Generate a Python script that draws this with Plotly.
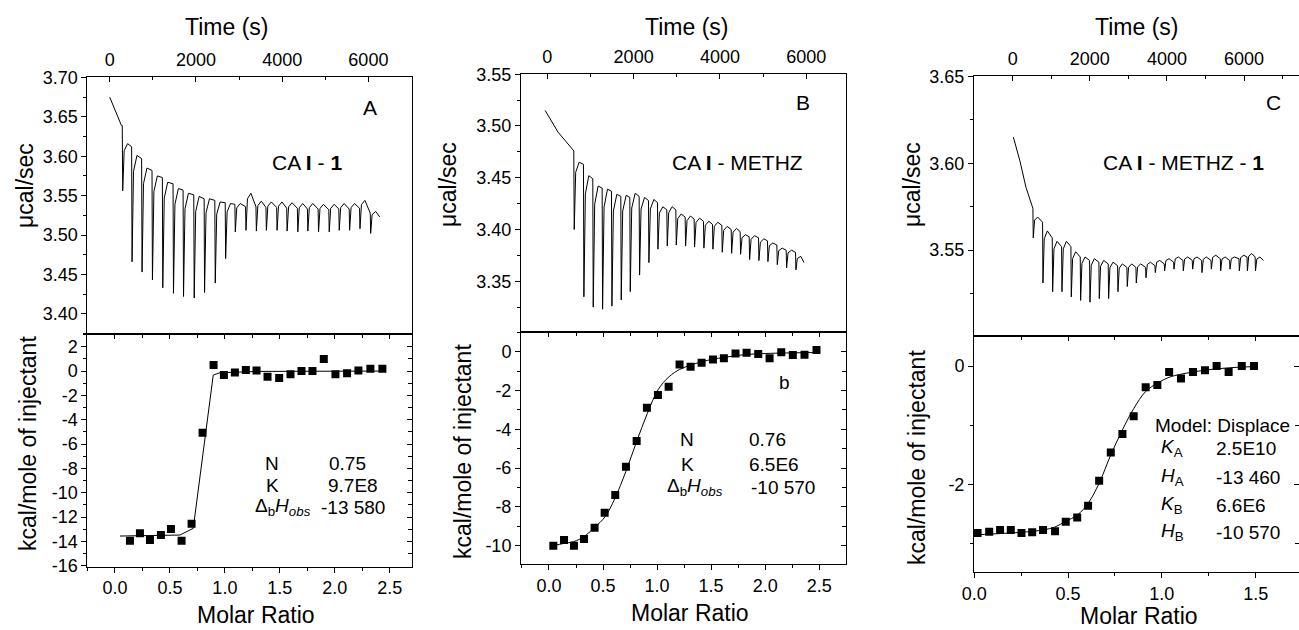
import plotly.graph_objects as go

W, H = 1299, 630
FONT = "Arial, Liberation Sans, sans-serif"

# ================= DATA =================
# ---- Panel A : CA I - 1 ----
A_start_t = [0, 155, 272]
A_start_v = [3.675, 3.654, 3.639]
A_inj_t = [295, 512, 744, 985, 1225, 1473, 1706, 1954, 2194, 2442, 2683, 2907, 3155,
           3396, 3628, 3876, 4109, 4357, 4590, 4838, 5086, 5318, 5559, 5799, 6047]
A_pre = [3.639, 3.612, 3.597, 3.582, 3.573, 3.565, 3.557, 3.551, 3.546, 3.544, 3.541, 3.539, 3.536,
         3.536, 3.535, 3.535, 3.534, 3.534, 3.533, 3.533, 3.532, 3.533, 3.533, 3.534, 3.528]
A_min = [3.556, 3.466, 3.453, 3.443, 3.433, 3.426, 3.422, 3.420, 3.427, 3.439, 3.470, 3.504, 3.506,
         3.505, 3.506, 3.506, 3.505, 3.504, 3.505, 3.504, 3.504, 3.506, 3.506, 3.508, 3.502]
A_peak = [3.616, 3.601, 3.585, 3.575, 3.567, 3.559, 3.553, 3.549, 3.546, 3.542, 3.540, 3.540, 3.553,
          3.543, 3.542, 3.542, 3.541, 3.540, 3.540, 3.539, 3.539, 3.540, 3.540, 3.544, 3.530]
A_end_t = [6264]
A_end_v = [3.523]

A_ratio = [0.136, 0.227, 0.318, 0.418, 0.509, 0.606, 0.697, 0.797, 0.897, 0.991, 1.091, 1.191,
           1.288, 1.388, 1.494, 1.597, 1.697, 1.797, 1.900, 2.006, 2.112, 2.215, 2.324, 2.433]
A_heat = [-13.95, -13.34, -13.89, -13.48, -12.99, -13.95, -12.55, -5.07, 0.49, -0.33, -0.11, 0.08,
          0.05, -0.47, -0.58, -0.27, 0.0, 0.0, 0.99, -0.27, -0.19, 0.05, 0.19, 0.19]
A_fit_x = [0.045, 0.59, 0.712, 0.894, 0.955, 1.3, 2.44]
A_fit_y = [-13.56, -13.48, -12.93, -0.33, -0.14, -0.03, 0.0]

# ---- Panel B : CA I - METHZ ----
B_start_t = [-50, 250]
B_start_v = [3.515, 3.494]
B_inj_t = [618, 842, 1058, 1275, 1491, 1707, 1916, 2132, 2348, 2557, 2773, 2982, 3198,
           3406, 3622, 3831, 4047, 4264, 4472, 4681, 4897, 5105, 5322, 5538, 5754]
B_pre = [3.476, 3.463, 3.449, 3.440, 3.437, 3.432, 3.431, 3.432, 3.428, 3.426, 3.419, 3.419, 3.412,
         3.410, 3.408, 3.405, 3.404, 3.400, 3.398, 3.393, 3.392, 3.389, 3.385, 3.380, 3.378]
B_min = [3.400, 3.335, 3.325, 3.323, 3.326, 3.332, 3.340, 3.356, 3.368, 3.381, 3.384, 3.385, 3.384,
         3.383, 3.382, 3.381, 3.378, 3.377, 3.376, 3.371, 3.370, 3.369, 3.366, 3.363, 3.361]
B_peak = [3.465, 3.452, 3.442, 3.439, 3.434, 3.433, 3.435, 3.431, 3.429, 3.422, 3.422, 3.415, 3.413,
          3.411, 3.408, 3.407, 3.403, 3.401, 3.395, 3.394, 3.391, 3.387, 3.382, 3.380, 3.374]
B_end_t = [5947]
B_end_v = [3.368]

B_ratio = [0.04, 0.139, 0.231, 0.324, 0.422, 0.515, 0.613, 0.712, 0.811, 0.906, 1.008, 1.107, 1.208,
           1.310, 1.412, 1.517, 1.618, 1.726, 1.828, 1.936, 2.041, 2.149, 2.256, 2.364, 2.475]
B_heat = [-10.0, -9.71, -10.0, -9.66, -9.07, -8.30, -7.39, -5.93, -4.60, -2.89, -2.23, -1.80, -0.65,
          -0.77, -0.57, -0.40, -0.34, -0.09, -0.05, -0.12, -0.34, -0.02, -0.17, -0.15, 0.09]
B_fit_x = [0.04, 0.14, 0.23, 0.32, 0.42, 0.52, 0.61, 0.71, 0.81, 0.91, 1.01, 1.11, 1.21, 1.31,
           1.41, 1.52, 1.62, 1.73, 1.83, 2.0, 2.2, 2.48]
B_fit_y = [-10.0, -9.88, -9.79, -9.54, -9.07, -8.5, -7.56, -6.19, -4.64, -3.18, -1.95, -1.29, -0.91,
           -0.69, -0.52, -0.38, -0.29, -0.2, -0.14, -0.09, -0.06, -0.04]

# ---- Panel C : CA I - METHZ - 1 ----
C_start_t = [17, 190, 345]
C_start_v = [3.615, 3.601, 3.586]
C_inj_t = [527, 778, 1029, 1271, 1513, 1755, 1997, 2239, 2481, 2723, 2965, 3199, 3450,
           3692, 3934, 4176, 4418, 4660, 4902, 5145, 5387, 5629, 5871, 6080, 6290]
C_pre = [3.574, 3.566, 3.557, 3.552, 3.552, 3.546, 3.544, 3.543, 3.542, 3.541, 3.540, 3.540, 3.540,
         3.541, 3.542, 3.543, 3.544, 3.544, 3.544, 3.544, 3.545, 3.544, 3.545, 3.546, 3.546]
C_min = [3.557, 3.531, 3.526, 3.526, 3.523, 3.521, 3.520, 3.522, 3.522, 3.526, 3.529, 3.531, 3.534,
         3.537, 3.538, 3.539, 3.538, 3.539, 3.537, 3.539, 3.538, 3.539, 3.538, 3.538, 3.538]
C_peak = [3.569, 3.561, 3.555, 3.555, 3.549, 3.546, 3.545, 3.544, 3.543, 3.542, 3.542, 3.542, 3.543,
          3.544, 3.545, 3.546, 3.546, 3.546, 3.546, 3.547, 3.546, 3.546, 3.547, 3.548, 3.546]
C_end_t = [6502]
C_end_v = [3.544]

C_ratio = [0.018, 0.08, 0.138, 0.195, 0.252, 0.309, 0.367, 0.431, 0.488, 0.549, 0.607, 0.666, 0.728,
           0.790, 0.850, 0.914, 0.976, 1.039, 1.102, 1.166, 1.230, 1.292, 1.356, 1.426, 1.491]
C_heat = [-2.82, -2.80, -2.77, -2.77, -2.82, -2.81, -2.77, -2.79, -2.63, -2.56, -2.36, -1.94, -1.46,
          -1.15, -0.85, -0.36, -0.32, -0.10, -0.21, -0.10, -0.07, 0.0, -0.10, 0.0, 0.0]
C_fit_x = [0.018, 0.14, 0.25, 0.367, 0.43, 0.49, 0.549, 0.607, 0.666, 0.728, 0.79, 0.85, 0.914,
           0.976, 1.039, 1.10, 1.23, 1.36, 1.49]
C_fit_y = [-2.85, -2.83, -2.81, -2.77, -2.72, -2.62, -2.52, -2.32, -1.98, -1.50, -1.08, -0.72, -0.43,
           -0.29, -0.19, -0.14, -0.07, -0.03, -0.01]

# ---- tick labels ----
time_ticks = [0, 2000, 4000, 6000]
A_top_yticks = [3.40, 3.45, 3.50, 3.55, 3.60, 3.65, 3.70]
B_top_yticks = [3.35, 3.40, 3.45, 3.50, 3.55]
C_top_yticks = [3.55, 3.60, 3.65]
A_bot_yticks = [-16, -14, -12, -10, -8, -6, -4, -2, 0, 2]
B_bot_yticks = [-10, -8, -6, -4, -2, 0]
C_bot_yticks = [-2, 0]
AB_ratio_ticks = [0.0, 0.5, 1.0, 1.5, 2.0, 2.5]
C_ratio_ticks = [0.0, 0.5, 1.0, 1.5]


# ================= helpers =================
def thermo(st, sv, inj, pre, mn, pk, et, ev):
    xs, ys = list(st), list(sv)
    for t, p, m, k in zip(inj, pre, mn, pk):
        xs += [t - 4, t + 6, t + 40, t + 120]
        ys += [p, m, m + 0.85 * (k - m), k]
    return xs + list(et), ys + list(ev)


def xd(a, b):
    return [a / W, min(b / W, 1.0)]


def yd(top, bot):
    return [1 - bot / H, 1 - top / H]


TF = dict(size=18, color="black", family=FONT)


def base_axis(rng, tv, tt, ticks, minor_tick0, minor_dtick, **kw):
    d = dict(range=rng, autorange=False, tickmode="array", tickvals=tv, ticktext=tt,
             ticks=ticks, ticklen=5, tickwidth=1, tickcolor="black", automargin=False,
             showline=True, linecolor="black", linewidth=1, mirror=True,
             showgrid=False, zeroline=False, tickfont=TF,
             minor=dict(tickmode="linear", tick0=minor_tick0, dtick=minor_dtick,
                        ticks=ticks, ticklen=3, tickwidth=1, tickcolor="black", showgrid=False))
    d.update(kw)
    return d


def overlay_axis(rng, tv, ticks, minor_tick0, minor_dtick, **kw):
    d = dict(range=rng, autorange=False, tickmode="array", tickvals=tv, automargin=False,
             ticks=ticks, ticklen=5, tickwidth=1, tickcolor="black",
             showline=False, showgrid=False, zeroline=False, showticklabels=False,
             minor=dict(tickmode="linear", tick0=minor_tick0, dtick=minor_dtick,
                        ticks=ticks, ticklen=4, tickwidth=1, tickcolor="black", showgrid=False))
    d.update(kw)
    return d


panels = [
    dict(th=thermo(A_start_t, A_start_v, A_inj_t, A_pre, A_min, A_peak, A_end_t, A_end_v),
         rx=A_ratio, ry=A_heat, fx=A_fit_x, fy=A_fit_y, spline=False, ymirror=True,
         xdom=(87.3, 411.7), top=(77.3, 334.3), bot=(334.3, 566.7),
         trng=[-520, 7005], tyr=[3.374, 3.7002], tyt=A_top_yticks, tymin=(3.375, 0.025),
         byr=[-16.08, 3.02], byt=A_bot_yticks, bymin=(-16, 1),
         bxr=[-0.252, 2.70], bxt=AB_ratio_ticks),
    dict(th=thermo(B_start_t, B_start_v, B_inj_t, B_pre, B_min, B_peak, B_end_t, B_end_v),
         rx=B_ratio, ry=B_heat, fx=B_fit_x, fy=B_fit_y, spline=True, ymirror=True,
         xdom=(521, 846), top=(74, 332), bot=(332, 564.3),
         trng=[-609, 6920], tyr=[3.301, 3.5502], tyt=B_top_yticks, tymin=(3.325, 0.025),
         byr=[-10.96, 1.02], byt=B_bot_yticks, bymin=(-10, 1),
         bxr=[-0.259, 2.748], bxt=AB_ratio_ticks),
    dict(th=thermo(C_start_t, C_start_v, C_inj_t, C_pre, C_min, C_peak, C_end_t, C_end_v),
         rx=C_ratio, ry=C_heat, fx=C_fit_x, fy=C_fit_y, spline=True, ymirror=False,
         xdom=(974, 1299), top=(76, 336), bot=(336, 572.3),
         trng=[-1004, 7424], tyr=[3.5005, 3.6502], tyt=C_top_yticks, tymin=(3.525, 0.025),
         byr=[-3.485, 0.507], byt=C_bot_yticks, bymin=(-3, 1),
         bxr=[-0.001, 1.731], bxt=C_ratio_ticks),
]

fig = go.Figure()
layout = {}

for i, p in enumerate(panels):
    n = 3 * i
    xt, yt = n + 1, n + 1          # top panel axes
    xb, yb = n + 2, n + 2          # bottom panel axes
    xo, yo = n + 3, n + 3          # overlay axes (inside mirrored ticks)
    xs = lambda k: "x" if k == 1 else f"x{k}"
    ys = lambda k: "y" if k == 1 else f"y{k}"
    lx = lambda k: "xaxis" if k == 1 else f"xaxis{k}"
    ly = lambda k: "yaxis" if k == 1 else f"yaxis{k}"

    # thermogram
    fig.add_trace(go.Scatter(x=p["th"][0], y=p["th"][1], mode="lines",
                             line=dict(color="black", width=1), xaxis=xs(xt), yaxis=ys(yt),
                             hoverinfo="skip"))
    # fit
    fig.add_trace(go.Scatter(x=p["fx"], y=p["fy"], mode="lines",
                             line=dict(color="black", width=1,
                                       shape="spline" if p["spline"] else "linear"),
                             xaxis=xs(xb), yaxis=ys(yb), hoverinfo="skip"))
    # data
    fig.add_trace(go.Scatter(x=p["rx"], y=p["ry"], mode="markers",
                             marker=dict(symbol="square", size=8, color="black"),
                             xaxis=xs(xb), yaxis=ys(yb), hoverinfo="skip"))
    # invisible traces for overlay axes
    fig.add_trace(go.Scatter(x=p["rx"], y=p["ry"], mode="markers", marker=dict(opacity=0),
                             xaxis=xs(xo), yaxis=ys(yb), hoverinfo="skip"))
    fig.add_trace(go.Scatter(x=p["rx"], y=p["ry"], mode="markers", marker=dict(opacity=0),
                             xaxis=xs(xb), yaxis=ys(yo), hoverinfo="skip"))

    xdom = xd(*p["xdom"])
    layout[lx(xt)] = base_axis(p["trng"], time_ticks, [str(v) for v in time_ticks], "inside",
                               1000, 1000, domain=xdom, side="top", anchor=ys(yt),
                               ticklabelstandoff=3)
    layout[ly(yt)] = base_axis(p["tyr"], p["tyt"], [f"{v:.2f}" for v in p["tyt"]], "outside",
                               p["tymin"][0], p["tymin"][1], domain=yd(*p["top"]), anchor=xs(xt),
                               mirror=p["ymirror"])
    layout[lx(xb)] = base_axis(p["bxr"], p["bxt"], [f"{v:.1f}" for v in p["bxt"]], "outside",
                               0, 0.25, domain=xdom, side="bottom", anchor=ys(yb))
    layout[ly(yb)] = base_axis(p["byr"], p["byt"], [f"{v:.0f}" for v in p["byt"]], "outside",
                               p["bymin"][0], p["bymin"][1], domain=yd(*p["bot"]), anchor=xs(xb),
                               mirror=p["ymirror"])
    layout[lx(xo)] = overlay_axis(p["bxr"], p["bxt"], "inside", 0, 0.25,
                                  overlaying=xs(xb), side="top", anchor=ys(yb))
    layout[ly(yo)] = overlay_axis(p["byr"], p["byt"], "inside", p["bymin"][0], p["bymin"][1],
                                  overlaying=ys(yb), side="right", anchor=xs(xb))


def ann(text, px, py, size, angle=0, xanchor="center"):
    return dict(text=text, x=px / W, y=1 - py / H, xref="paper", yref="paper",
                showarrow=False, xanchor=xanchor, yanchor="middle", textangle=angle,
                font=dict(size=size, color="black", family=FONT))


dH = "Δ<sub>b</sub><i>H<sub>obs</sub></i>"
TS = 23
annotations = [
    # axis titles
    ann("Time (s)", 226, 27, TS), ann("Time (s)", 686, 27, TS), ann("Time (s)", 1136, 27, TS),
    ann("μcal/sec", 25, 186, TS, -90), ann("μcal/sec", 448, 185, TS, -90),
    ann("μcal/sec", 912, 185, TS, -90),
    ann("kcal/mole of injectant", 28, 444, TS, -90),
    ann("kcal/mole of injectant", 463, 452, TS, -90),
    ann("kcal/mole of injectant", 917, 458, TS, -90),
    ann("Molar Ratio", 256, 615, TS), ann("Molar Ratio", 690, 613, TS),
    ann("Molar Ratio", 1139, 616, TS),
    # panel labels
    ann("A", 370, 107, 21), ann("B", 803, 103, 21), ann("C", 1273, 103, 21),
    ann("CA <b>I</b> - <b>1</b>", 307, 163, 21),
    ann("CA <b>I</b> - METHZ", 737, 163, 21),
    ann("CA <b>I</b> - METHZ - <b>1</b>", 1183, 163, 21),
    # A parameters
    ann("N", 272, 463, 19), ann("0.75", 347, 463, 19),
    ann("K", 272, 485, 19), ann("9.7E8", 353, 485, 19),
    ann(dH, 283, 507, 19), ann("-13 580", 353, 507, 19),
    # B parameters
    ann("b", 784, 383, 19),
    ann("N", 687, 439, 19), ann("0.76", 767, 439, 19),
    ann("K", 687, 464, 19), ann("6.5E6", 774, 464, 19),
    ann(dH, 695, 487, 19), ann("-10 570", 783, 487, 19),
    # C parameters
    ann("Model: Displace", 1153, 425, 19, xanchor="left"),
    ann("<i>K</i><sub>A</sub>", 1172, 448, 19), ann("2.5E10", 1246, 448, 19),
    ann("<i>H</i><sub>A</sub>", 1172, 477, 19), ann("-13 460", 1248, 477, 19),
    ann("<i>K</i><sub>B</sub>", 1172, 505, 19), ann("6.6E6", 1241, 505, 19),
    ann("<i>H</i><sub>B</sub>", 1172, 532, 19), ann("-10 570", 1248, 532, 19),
]

fig.update_layout(width=W, height=H, margin=dict(l=0, r=0, t=0, b=0, pad=0),
                  paper_bgcolor="white", plot_bgcolor="white", showlegend=False,
                  font=dict(family=FONT, color="black"), annotations=annotations, **layout)

fig.write_html("out.html", config={"displayModeBar": False},
               post_script="document.body.style.margin='0';")
